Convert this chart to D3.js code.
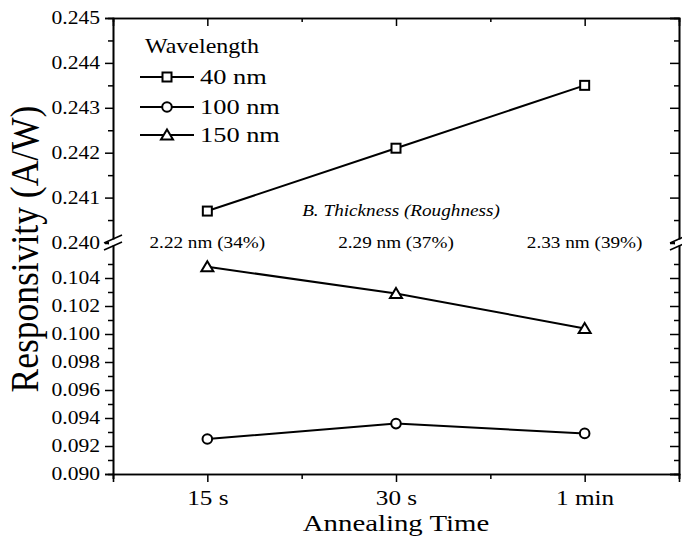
<!DOCTYPE html>
<html>
<head>
<meta charset="utf-8">
<script src="https://cdn.jsdelivr.net/npm/d3@7"></script>
<style>
  html, body { margin: 0; padding: 0; background: #fff; }
  svg { display: block; }
  svg text { font-family: "Liberation Serif", "Times New Roman", Times, "DejaVu Serif", serif; fill: #000; }
</style>
</head>
<body>
<svg id="chart" width="682" height="545"></svg>
<script>
// Annealing time categories
const categories = ["15 s", "30 s", "1 min"];
// Responsivity (A/W) per wavelength
const series40 = [0.2407, 0.2421, 0.2435];
const series100 = [0.0925, 0.0936, 0.0929];
const series150 = [0.1048, 0.1029, 0.1004];
const seriesNames = ["40 nm", "100 nm", "150 nm"];
// Barrier thickness (roughness) per category
const thicknessLabels = ["2.22 nm (34%)", "2.29 nm (37%)", "2.33 nm (39%)"];
// Axis ticks
const upperTicks = [0.240, 0.241, 0.242, 0.243, 0.244, 0.245];
const lowerTicks = [0.090, 0.092, 0.094, 0.096, 0.098, 0.100, 0.102, 0.104];

const svg = d3.select("#chart");
const plotLeft = 113, plotRight = 679, plotTop = 18, plotBottom = 474, breakY = 242.5;
// Horizontal widening of glyphs, keeping each label anchored in place
const TEXT_WIDEN = 1.2;
function widen(sel, k = TEXT_WIDEN) {
  sel.each(function () {
    const t = d3.select(this);
    const ax = +(t.attr("x") || 0);
    t.attr("transform", `translate(${ax * (1 - k)},0) scale(${k},1)`);
  });
}

const x = d3.scaleLinear().domain([0.5, 3.5]).range([plotLeft, plotRight]);
const yUpper = d3.scaleLinear().domain([0.240, 0.245]).range([breakY, plotTop]);
const yLower = d3.scaleLinear().domain([0.090, 0.1065]).range([plotBottom, breakY + 0.5]);

const fmt = d3.format(".3f");
const lowerMinor = [0.091, 0.093, 0.095, 0.097, 0.099, 0.101, 0.103, 0.105];
const upperMinor = [0.2405, 0.2415, 0.2425, 0.2435, 0.2445];

// Left axis, lower segment
svg.append("g").attr("transform", `translate(${plotLeft},0)`)
  .call(d3.axisLeft(yLower).tickValues(lowerTicks).tickFormat(fmt).tickSize(8).tickPadding(5));
svg.append("g").attr("transform", `translate(${plotLeft},0)`)
  .call(d3.axisLeft(yLower).tickValues(lowerMinor).tickFormat("").tickSize(5));
// Left axis, upper segment
svg.append("g").attr("transform", `translate(${plotLeft},0)`)
  .call(d3.axisLeft(yUpper).tickValues(upperTicks).tickFormat(fmt).tickSize(8).tickPadding(5));
svg.append("g").attr("transform", `translate(${plotLeft},0)`)
  .call(d3.axisLeft(yUpper).tickValues(upperMinor).tickFormat("").tickSize(5));

// Right axis (ticks pointing inward)
svg.append("g").attr("transform", `translate(${plotRight},0)`)
  .call(d3.axisRight(yLower).tickValues(lowerTicks).tickFormat("").tickSize(-9));
svg.append("g").attr("transform", `translate(${plotRight},0)`)
  .call(d3.axisRight(yLower).tickValues(lowerMinor).tickFormat("").tickSize(-5));
svg.append("g").attr("transform", `translate(${plotRight},0)`)
  .call(d3.axisRight(yUpper).tickValues(upperTicks).tickFormat("").tickSize(-9));
svg.append("g").attr("transform", `translate(${plotRight},0)`)
  .call(d3.axisRight(yUpper).tickValues(upperMinor).tickFormat("").tickSize(-5));

// Bottom axis
const xLabels = svg.append("g").attr("transform", `translate(0,${plotBottom})`)
  .call(d3.axisBottom(x).tickValues([1, 2, 3]).tickFormat((d) => categories[d - 1]).tickSize(8).tickPadding(8));
svg.append("g").attr("transform", `translate(0,${plotBottom})`)
  .call(d3.axisBottom(x).tickValues([0.5, 1.5, 2.5, 3.5]).tickFormat("").tickSize(5));
// Top axis (ticks inward)
svg.append("g").attr("transform", `translate(0,${plotTop})`)
  .call(d3.axisTop(x).tickValues([1, 2, 3]).tickFormat("").tickSize(-8));
svg.append("g").attr("transform", `translate(0,${plotTop})`)
  .call(d3.axisTop(x).tickValues([1.5, 2.5]).tickFormat("").tickSize(-4));

svg.selectAll("g").attr("font-family", null);
svg.selectAll(".domain").attr("stroke", "#000").attr("stroke-width", 1.6);
svg.selectAll(".tick line").attr("stroke", "#000").attr("stroke-width", 1.5);
svg.selectAll(".tick text").attr("fill", "#000").style("font-size", "18px");
xLabels.selectAll(".tick text").style("font-size", "21px");
widen(svg.selectAll(".tick text"));

// Axis break marks
[plotLeft, plotRight].forEach((bx) => {
  svg.append("rect").attr("x", bx - 4).attr("y", breakY - 3).attr("width", 8).attr("height", 6).attr("fill", "#fff");
  [-3.5, 3.5].forEach((dy) => {
    svg.append("line")
      .attr("x1", bx - 9).attr("y1", breakY + dy + 4)
      .attr("x2", bx + 9).attr("y2", breakY + dy - 4)
      .attr("stroke", "#000").attr("stroke-width", 1.5);
  });
});

// Data lines
const line = (yScale) => d3.line().x((d, i) => x(i + 1)).y((d) => yScale(d));
const drawSeries = (vals, yScale) => {
  svg.append("path").datum(vals).attr("d", line(yScale))
    .attr("fill", "none").attr("stroke", "#000").attr("stroke-width", 2);
};
drawSeries(series40, yUpper);
drawSeries(series100, yLower);
drawSeries(series150, yLower);

// Markers
const square = (g, cx, cy) => g.append("rect").attr("x", cx - 4.5).attr("y", cy - 4.5)
  .attr("width", 9).attr("height", 9).attr("fill", "#fff").attr("stroke", "#000").attr("stroke-width", 2);
const circle = (g, cx, cy) => g.append("circle").attr("cx", cx).attr("cy", cy).attr("r", 4.8)
  .attr("fill", "#fff").attr("stroke", "#000").attr("stroke-width", 2);
const triangle = (g, cx, cy) => g.append("path")
  .attr("d", `M${cx},${cy - 5.5}L${cx + 6},${cy + 4.5}L${cx - 6},${cy + 4.5}Z`)
  .attr("fill", "#fff").attr("stroke", "#000").attr("stroke-width", 2).attr("stroke-linejoin", "miter");

series40.forEach((v, i) => square(svg, x(i + 1), yUpper(v)));
series100.forEach((v, i) => circle(svg, x(i + 1), yLower(v)));
series150.forEach((v, i) => triangle(svg, x(i + 1), yLower(v)));

// Thickness annotations
const notes = svg.append("g");
notes.append("text").attr("x", x(2) + 5).attr("y", 216).attr("text-anchor", "middle")
  .style("font-size", "16px").style("font-style", "italic").text("B. Thickness (Roughness)");
thicknessLabels.forEach((t, i) => {
  notes.append("text").attr("x", x(i + 1)).attr("y", 248).attr("text-anchor", "middle")
    .style("font-size", "16px").text(t);
});
widen(notes.selectAll("text"));

// Legend
const legend = svg.append("g");
legend.append("text").attr("x", 145).attr("y", 53).style("font-size", "20px").text("Wavelength");
const markers = [square, circle, triangle];
const rowY = [77, 107, 135];
seriesNames.forEach((name, i) => {
  legend.append("line").attr("x1", 140).attr("x2", 194).attr("y1", rowY[i]).attr("y2", rowY[i])
    .attr("stroke", "#000").attr("stroke-width", 2);
  markers[i](legend, 167, rowY[i]);
  legend.append("text").attr("x", 200).attr("y", rowY[i] + 7).style("font-size", "22px").text(name);
});
widen(legend.selectAll("text"));

// Axis titles
const xTitle = svg.append("text").attr("x", 396).attr("y", 531).attr("text-anchor", "middle")
  .style("font-size", "24px").text("Annealing Time");
widen(xTitle);
svg.append("text").attr("transform", "translate(38,249) rotate(-90) scale(1,1.15)").attr("text-anchor", "middle")
  .style("font-size", "35.5px").text("Responsivity (A/W)");
</script>
</body>
</html>
